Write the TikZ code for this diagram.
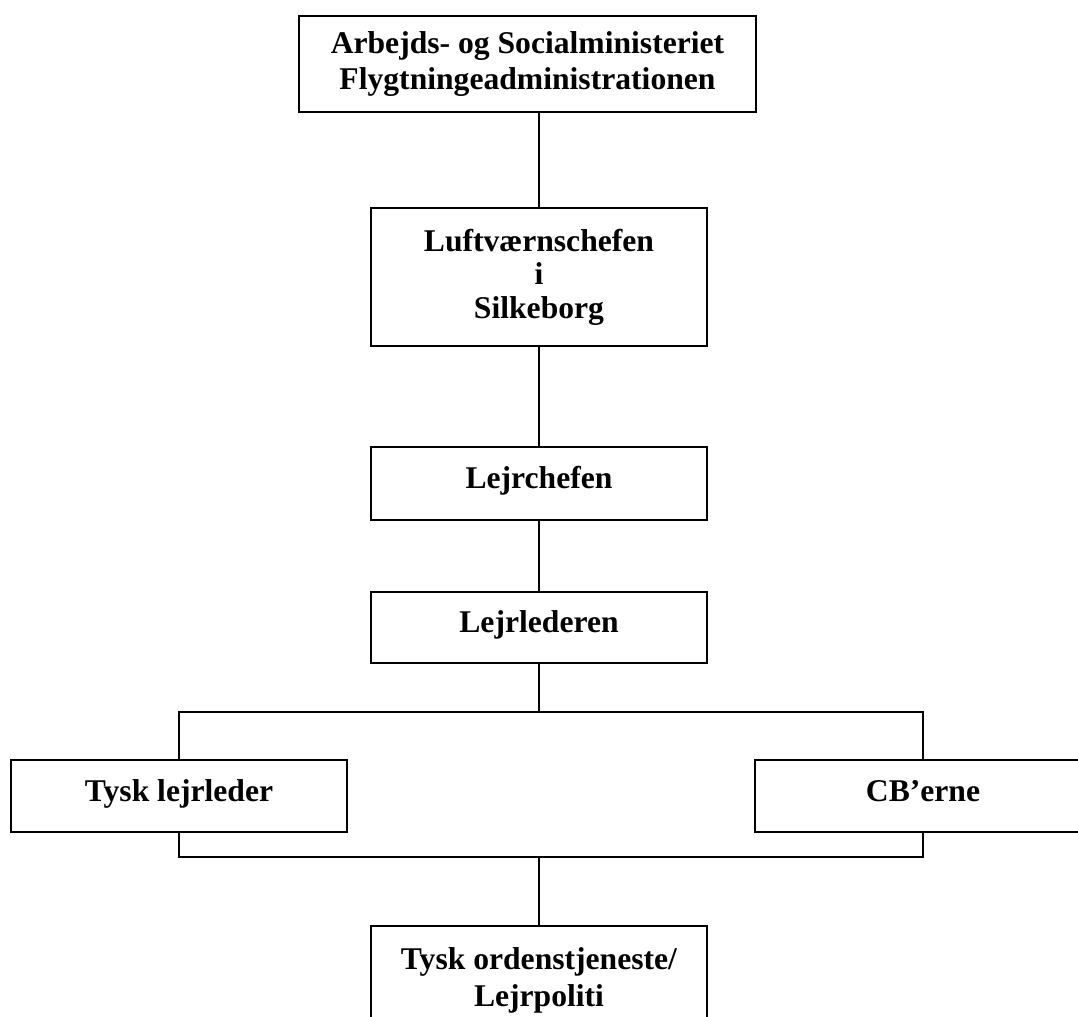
\documentclass[tikz,border=0pt]{standalone}
\usepackage{fontspec}
\setmainfont{Liberation Serif}
\usetikzlibrary{positioning,calc}

\begin{document}
\begin{tikzpicture}[x=0.02cm,y=-0.02cm,box/.style={draw,line width=1.1pt,align=center,inner sep=0pt,minimum width=6.72cm,font=\bfseries\fontsize{18}{21}\selectfont},single/.style={box,text height=13.5pt,text depth=7.3pt},conn/.style={line width=1.1pt}]
\useasboundingbox (0,0) rectangle (1078,1017);
\node[box,minimum width=9.14cm,minimum height=1.92cm](min) at (527.5,64){Arbejds- og Socialministeriet\\Flygtningeadministrationen};
\node[box,minimum height=2.76cm,font=\bfseries\fontsize{18}{19}\selectfont](luft) at (539,277){Luftværnschefen\\i\\Silkeborg};
\node[single,minimum height=1.46cm](chef) at (539,483.5){Lejrchefen};
\node[single,minimum height=1.42cm](leder) at (539,627.5){Lejrlederen};
\node[single,minimum height=1.44cm](tysk) at (179,796){Tysk lejrleder};
\node[single,minimum height=1.44cm](cb) at (923,796){CB’erne};
\node[box,minimum height=2.16cm](orden) at (539,980){Tysk ordenstjeneste/\\Lejrpoliti};
\coordinate (split) at (539,712); \coordinate (join) at (539,857);
\draw[conn](luft.north)--(luft.north|-min.south); \draw[conn](luft)--(chef); \draw[conn](chef)--(leder); \draw[conn](leder)--(split);
\draw[conn](tysk.north)--(tysk.north|-split)--(cb.north|-split)--(cb.north);
\draw[conn](tysk.south)--(tysk.south|-join)--(cb.south|-join)--(cb.south); \draw[conn](join)--(orden);
\end{tikzpicture}
\end{document}
